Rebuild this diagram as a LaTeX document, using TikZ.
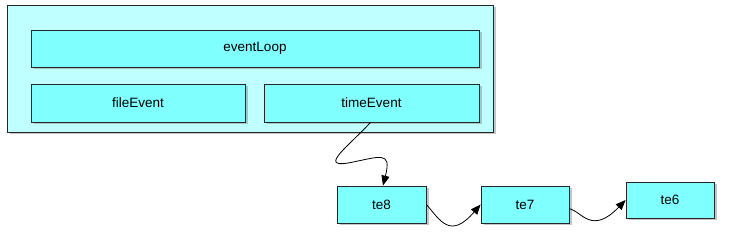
\documentclass[tikz,border=0pt]{standalone}
\usepackage{fontspec}
\setmainfont{Liberation Sans}
\usetikzlibrary{arrows.meta,shadows}
\definecolor{boxcyan}{HTML}{80FFFF}
\definecolor{framecyan}{HTML}{BFFFFF}

\begin{document}
\begin{tikzpicture}[x=1pt, y=-1pt, every node/.style={font=\fontsize{13.5}{16}\selectfont}, >={Triangle[length=10pt,width=8pt]},
	box/.style={draw=black!85, line width=0.8pt, fill=boxcyan, inner sep=0pt, drop shadow={shadow xshift=2.5pt, shadow yshift=-2.5pt, fill=black!45}},
	frame/.style={box, fill=framecyan},
	link/.style={->, line width=0.8pt}]
	\useasboundingbox (0,0) rectangle (729,243);
	\node[frame, minimum width=486pt, minimum height=127pt] (loopbox) at (250,68.5) {};
	\node[box, minimum width=448pt, minimum height=37pt] (eventLoop) at (255,48.5) {eventLoop};
	\node[box, minimum width=214pt, minimum height=38pt] (fileEvent) at (138,103) {fileEvent};
	\node[box, minimum width=215pt, minimum height=38pt] (timeEvent) at (371.5,103) {timeEvent};
	\node[box, minimum width=89pt, minimum height=37pt] (te8) at (381.5,204.5) {te8};
	\node[box, minimum width=88pt, minimum height=37pt] (te7) at (525,204.5) {te7};
	\node[box, minimum width=88pt, minimum height=36pt] (te6) at (670,200) {te6};
	\draw[link] ([xshift=-1pt]timeEvent.south) .. controls (350,145) and (318,168) .. (348,163) .. controls (380,157) and (392,150) .. ([xshift=1.5pt]te8.north);
	\draw[link] (te8.east) .. controls (440,220) and (450,240) .. (te7.west);
	\draw[link] ([yshift=-4pt]te7.east) .. controls (582,212) and (592,235) .. (te6.west);
\end{tikzpicture}
\end{document}
